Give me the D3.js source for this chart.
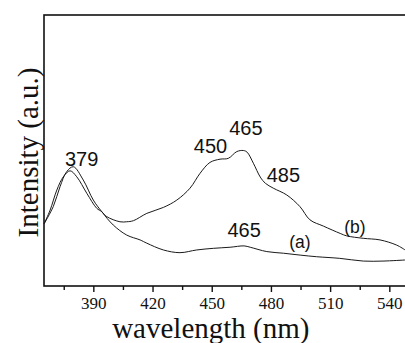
<!DOCTYPE html>
<html>
<head>
<script src="https://cdnjs.cloudflare.com/ajax/libs/d3/7.8.5/d3.min.js"></script>
<style>
  body { margin: 0; background: #fff; }
  svg { display: block; }
</style>
</head>
<body>
<div id="chart"></div>
<script>
// spectrum (a)
var waveA = [365.0, 369.7, 373.1, 376.5, 379.9, 384.9, 390.0, 394.3, 400.1, 406.9, 413.7, 417.1,
             425.5, 433.9, 442.4, 450.8, 459.3, 466.4, 469.5, 477.9, 486.3, 494.8, 503.2, 514.9,
             526.8, 536.8, 548.0];
var intensityA = [22.9, 29.3, 36.6, 42.2, 44.0, 39.1, 31.7, 27.4, 22.5, 18.8, 17.0, 15.8,
                  13.3, 12.3, 13.3, 13.9, 14.3, 14.8, 14.3, 12.7, 12.1, 11.4, 10.8, 10.2,
                  9.2, 9.2, 9.6];

// spectrum (b)
var waveB = [365.0, 368.1, 371.5, 374.8, 378.2, 381.6, 386.7, 391.7, 394.3, 396.8, 403.5, 406.9,
             410.3, 417.1, 425.5, 432.3, 439.0, 444.1, 449.1, 454.2, 458.4, 462.7, 466.0, 467.9,
             471.1, 474.6, 477.2, 481.2, 488.0, 494.7, 499.8, 506.6, 515.1, 518.4, 526.8, 535.3,
             543.7, 548.0];
var intensityB = [22.9, 28.0, 35.4, 40.3, 42.5, 40.3, 34.2, 28.7, 27.4, 25.6, 23.7, 23.7,
                  24.1, 26.8, 29.0, 31.7, 36.1, 41.6, 45.6, 46.8, 47.1, 49.6, 50.0, 49.4,
                  45.3, 40.2, 37.9, 36.1, 33.6, 29.3, 24.4, 22.1, 19.4, 18.5, 17.6, 17.0,
                  15.1, 13.3];

var majorTicks = [390, 420, 450, 480, 510, 540];
var minorTicks = [375, 405, 435, 465, 495, 525];

var peakText = ["379", "450", "465", "485", "465", "(a)", "(b)"];
var peakWave = [384.1, 449.4, 467.3, 486.3, 466.4, 494.7, 522.6];
var peakLevel = [44.4, 49.2, 55.7, 38.5, 18.2, 14.0, 19.6];

var width = 405, height = 343;
var plotLeft = 44, plotTop = 15, plotBottom = 286;

var svg = d3.select("#chart").append("svg")
    .attr("width", width)
    .attr("height", height);

var x = d3.scaleLinear().domain([365, 550]).range([plotLeft, plotLeft + 185 * 1.9733]);
var y = d3.scaleLinear().domain([0, 100]).range([plotBottom, plotTop]);

// frame
svg.append("rect")
    .attr("x", plotLeft).attr("y", plotTop)
    .attr("width", x(550) - plotLeft + 5).attr("height", plotBottom - plotTop)
    .attr("fill", "none").attr("stroke", "#111").attr("stroke-width", 1.6);

// x axis
var xAxis = svg.append("g")
    .attr("transform", "translate(0," + plotBottom + ")")
    .call(d3.axisBottom(x).tickValues(majorTicks).tickSize(6).tickPadding(5).tickFormat(d3.format("d")));
xAxis.select(".domain").remove();
xAxis.selectAll(".tick line").attr("stroke", "#111").attr("stroke-width", 1.4);
xAxis.selectAll(".tick text")
    .style("font-family", "'Liberation Serif', 'Times New Roman', serif")
    .style("font-size", "17px")
    .attr("fill", "#111");

var xMinor = svg.append("g")
    .attr("transform", "translate(0," + plotBottom + ")")
    .call(d3.axisBottom(x).tickValues(minorTicks).tickSize(4).tickFormat(""));
xMinor.select(".domain").remove();
xMinor.selectAll(".tick line").attr("stroke", "#111").attr("stroke-width", 1.4);

// curves
var line = d3.line()
    .x(function(d) { return x(d[0]); })
    .y(function(d) { return y(d[1]); })
    .curve(d3.curveCatmullRom);

svg.append("path")
    .datum(d3.zip(waveA, intensityA))
    .attr("d", line)
    .attr("fill", "none").attr("stroke", "#1a1a1a").attr("stroke-width", 1);

svg.append("path")
    .datum(d3.zip(waveB, intensityB))
    .attr("d", line)
    .attr("fill", "none").attr("stroke", "#1a1a1a").attr("stroke-width", 1);

// peak labels
svg.selectAll(".peak")
    .data(d3.range(peakText.length))
    .enter().append("text")
    .attr("class", "peak")
    .attr("x", function(i) { return x(peakWave[i]); })
    .attr("y", function(i) { return y(peakLevel[i]); })
    .attr("text-anchor", "middle")
    .style("font-family", "'Liberation Sans', Arial, sans-serif")
    .style("font-size", function(i) { return peakText[i].charAt(0) == "(" ? "17.5px" : "20px"; })
    .attr("fill", "#111")
    .text(function(i) { return peakText[i]; });

// axis titles
svg.append("text")
    .attr("x", 210.8).attr("y", 338)
    .attr("text-anchor", "middle")
    .style("font-family", "'Liberation Serif', 'Times New Roman', serif")
    .style("font-size", "29px")
    .attr("fill", "#111")
    .text("wavelength (nm)");

svg.append("text")
    .attr("transform", "translate(37.5,152.5) rotate(-90)")
    .attr("text-anchor", "middle")
    .style("font-family", "'Liberation Serif', 'Times New Roman', serif")
    .style("font-size", "29px")
    .attr("fill", "#111")
    .text("Intensity (a.u.)");
</script>
</body>
</html>
